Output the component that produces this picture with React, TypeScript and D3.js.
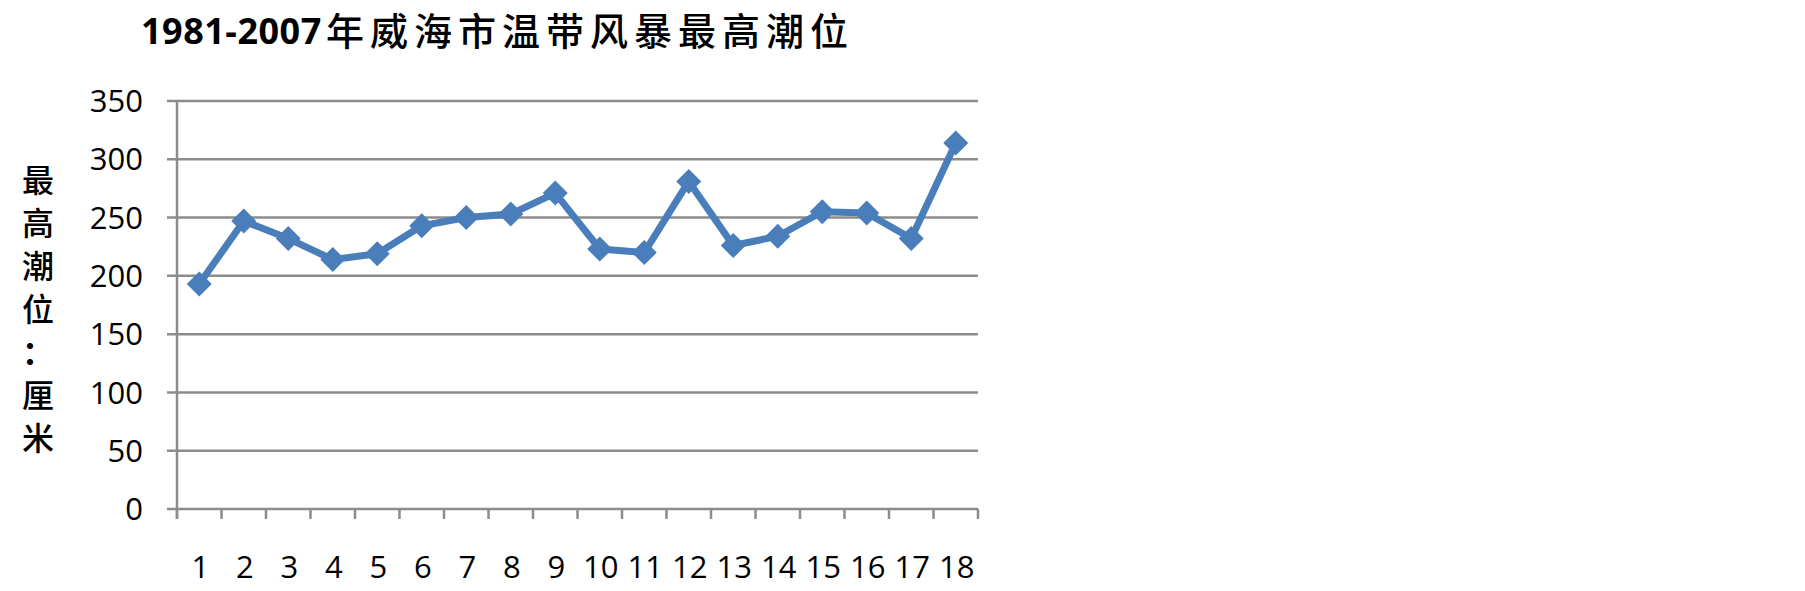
import React from "react";
import * as d3 from "d3";

const categories: string[] = ["1","2","3","4","5","6","7","8","9","10","11","12","13","14","15","16","17","18"];
const values: number[] = [193, 247, 232, 214, 219, 243, 250, 253, 271, 223, 220, 281, 226, 234, 255, 254, 232, 314];
const yTicks: number[] = [0, 50, 100, 150, 200, 250, 300, 350];
const titleNum = "1981-2007";
const titleCjk = "年威海市温带风暴最高潮位";
const yLabelChars: string[] = ["最", "高", "潮", "位", "：", "厘", "米"];

const W = 1805;
const H = 591;
const plot = { left: 177, right: 978, top: 101, bottom: 509 };
const lineColor = "#4a7ebb";
const gridColor = "#8c8c8c";

export default function App() {
  const x = d3.scaleBand<string>().domain(categories).range([plot.left, plot.right]).padding(0);
  const y = d3.scaleLinear().domain([0, 350]).range([plot.bottom, plot.top]);
  const cx = (c: string) => (x(c) as number) + x.bandwidth() / 2;
  const line = d3
    .line<number>()
    .x((_, i) => cx(categories[i]))
    .y((d) => y(d));
  const diamond = d3.symbol().type(d3.symbolDiamond2).size(400);
  const boundaries = d3.range(categories.length + 1).map((i) => plot.left + i * x.bandwidth());

  return (
    <svg
      width={W}
      height={H}
      style={{ position: "absolute", left: 0, top: 0, background: "#fff" }}
    >
      <rect x={0} y={0} width={W} height={H} fill="#fff" />
      {/* Title */}
      <text
        x={141}
        y={44}
        fontFamily="'Open Sans', sans-serif"
        fontWeight={700}
        fontSize={36}
        letterSpacing={0.5}
        fill="#000"
      >
        {titleNum}
      </text>
      <text
        x={326}
        y={45}
        fontFamily="'Noto Sans CJK SC', sans-serif"
        fontWeight={500}
        fontSize={38}
        letterSpacing={6}
        fill="#000"
      >
        {titleCjk}
      </text>

      {/* Y label */}
      {yLabelChars.map((ch, i) => (
        <text
          key={i}
          x={38}
          y={180 + i * 43 + 12}
          textAnchor="middle"
          fontFamily="'Noto Sans CJK SC', sans-serif"
          fontWeight={ch === "：" ? 700 : 500}
          fontSize={32}
          fill="#000"
        >
          {ch}
        </text>
      ))}

      {/* Gridlines */}
      {yTicks.map((t) => (
        <line
          key={t}
          x1={plot.left - 10}
          x2={plot.right}
          y1={y(t)}
          y2={y(t)}
          stroke={gridColor}
          strokeWidth={2.5}
        />
      ))}
      {/* Y axis */}
      <line x1={plot.left} x2={plot.left} y1={plot.top} y2={plot.bottom + 10} stroke={gridColor} strokeWidth={2.5} />
      {/* X ticks */}
      {boundaries.map((bx, i) => (
        <line key={i} x1={bx} x2={bx} y1={plot.bottom} y2={plot.bottom + 10} stroke={gridColor} strokeWidth={2.5} />
      ))}

      {/* Y tick labels */}
      {yTicks.map((t) => (
        <text
          key={t}
          x={143}
          y={y(t)}
          dy="0.36em"
          textAnchor="end"
          fontFamily="'Open Sans', sans-serif"
          fontSize={31}
          fill="#000"
        >
          {t}
        </text>
      ))}

      {/* X tick labels */}
      {categories.map((c) => (
        <text
          key={c}
          x={cx(c) + 1}
          y={578}
          textAnchor="middle"
          fontFamily="'Open Sans', sans-serif"
          fontSize={31}
          fill="#000"
        >
          {c}
        </text>
      ))}

      {/* Series */}
      <path d={line(values) || ""} fill="none" stroke={lineColor} strokeWidth={7} strokeLinejoin="round" />
      {values.map((v, i) => (
        <path
          key={i}
          d={diamond() || ""}
          transform={`translate(${cx(categories[i])},${y(v)})`}
          fill={lineColor}
        />
      ))}
    </svg>
  );
}
